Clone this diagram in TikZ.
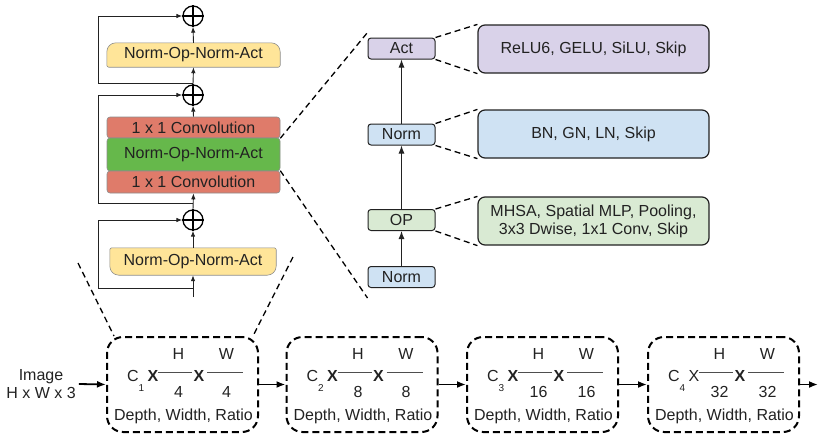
\documentclass[tikz,border=0pt]{standalone}
\usepackage{fontspec}
\setmainfont{Liberation Sans}
\usetikzlibrary{arrows.meta,calc}
\pgfdeclarelayer{background}
\pgfsetlayers{background,main}
\definecolor{ink}{HTML}{222222}
\definecolor{cyel}{HTML}{FFE599}
\definecolor{cred}{HTML}{DF7B6A}
\definecolor{cgreen}{HTML}{66B84B}
\definecolor{cpurple}{HTML}{D9D2E9}
\definecolor{cblue}{HTML}{CFE2F3}
\definecolor{clgreen}{HTML}{D9EAD3}
\definecolor{edge}{HTML}{8C8C8C}
\newcommand\YellowTop[1]{%
  \path[yelshape] ([yshift=2pt]#1.south west) -- ([yshift=-9pt]#1.north west)
    arc[start angle=180,end angle=90,radius=9pt] -- ([xshift=-9pt]#1.north east)
    arc[start angle=90,end angle=0,radius=9pt] -- ([yshift=2pt]#1.south east)
    arc[start angle=0,end angle=-90,radius=2pt] -- ([xshift=2pt]#1.south west)
    arc[start angle=270,end angle=180,radius=2pt] -- cycle;}
\newcommand\YellowBottom[1]{%
  \path[yelshape] ([yshift=-2pt]#1.north west) -- ([yshift=9pt]#1.south west)
    arc[start angle=180,end angle=270,radius=9pt] -- ([xshift=-9pt]#1.south east)
    arc[start angle=270,end angle=360,radius=9pt] -- ([yshift=-2pt]#1.north east)
    arc[start angle=0,end angle=90,radius=2pt] -- ([xshift=2pt]#1.north west)
    arc[start angle=90,end angle=180,radius=2pt] -- cycle;}
\begin{document}
\begin{tikzpicture}[x=1pt,y=1pt,
  txt/.style={font=\fontsize{16pt}{18pt}\selectfont, text=ink, inner sep=0pt},
  subtxt/.style={font=\fontsize{10pt}{11pt}\selectfont, text=ink, inner sep=0pt},
  flow/.style={draw=ink, line width=0.9pt, -{Latex[length=6pt,width=4.5pt]}},
  plusnode/.style={circle, draw=black, line width=1.3pt, minimum size=20pt, inner sep=0pt},
  plusline/.style={draw=black, line width=1.3pt},
  yelshape/.style={fill=cyel, draw=edge, line width=0.6pt},
  blockbox/.style={txt, draw=edge, line width=0.6pt, rounded corners=3pt, minimum width=173pt},
  smallbox/.style={txt, draw=ink, line width=1pt, rounded corners=3pt, minimum width=67pt, minimum height=21pt},
  bigbox/.style={txt, draw=ink, line width=1.2pt, rounded corners=7pt, minimum width=231pt, minimum height=48pt, align=center},
  colarrow/.style={draw=ink, line width=1pt, -{Latex[length=8pt,width=6pt]}},
  zoomline/.style={draw=black, line width=1.3pt, dash pattern=on 6pt off 4pt},
  stagebox/.style={draw=black, line width=2pt, dash pattern=on 7pt off 4pt, rounded corners=16pt, minimum width=151pt, minimum height=95pt},
  stagearrow/.style={draw=black, line width=1.8pt, -{Latex[length=9pt,width=7pt]}},
  fracline/.style={draw=ink!80, line width=0.8pt}
]
\useasboundingbox (0,0) rectangle (820,-437);

% ---------------- left block stack ----------------
\node[plusnode] (p1) at (193,-16) {};
\node[txt, minimum width=173pt, minimum height=24pt] (y1) at (193.5,-55) {Norm-Op-Norm-Act};
\node[plusnode] (p2) at (193,-95) {};
\node[blockbox, fill=cred, minimum height=21pt] (r1) at (193.5,-127.5) {1 x 1 Convolution};
\node[blockbox, fill=cgreen, minimum height=33pt] (g1) at (193.5,-154.5) {Norm-Op-Norm-Act};
\node[blockbox, fill=cred, minimum height=22pt] (r2) at (193.5,-182) {1 x 1 Convolution};
\node[plusnode] (p3) at (193,-220) {};
\node[txt, minimum width=166pt, minimum height=27pt] (y2) at (193,-261.5) {Norm-Op-Norm-Act};
\begin{pgfonlayer}{background}
  \YellowTop{y1}
  \YellowBottom{y2}
\end{pgfonlayer}
\foreach \p in {p1,p2,p3}{\draw[plusline] (\p.north) -- (\p.south) (\p.west) -- (\p.east);}

\coordinate (in0) at (193,-297);
\coordinate (s3) at (193,-288);
\coordinate (s2) at (193,-203);
\coordinate (s1) at (193,-83);

\draw[flow] (in0) -- (y2.south);
\draw[flow] (y2.north) -- (p3.south);
\draw[flow] (p3.north) -- (r2.south);
\draw[flow] (r1.north) -- (p2.south);
\draw[flow] (p2.north) -- (y1.south);
\draw[flow] (y1.north) -- (p1.south);
\draw[flow] (s3) -- ++(-95,0) |- (p3.west);
\draw[flow] (s2) -- ++(-95,0) |- (p2.west);
\draw[flow] (s1) -- ++(-95,0) |- (p1.west);

% ---------------- operator column ----------------
\node[smallbox, fill=cpurple] (act) at (401.5,-48.5) {Act};
\node[smallbox, fill=cblue] (nrm) at (401.5,-134.5) {Norm};
\node[smallbox, fill=clgreen] (op) at (401.5,-220) {OP};
\node[smallbox, fill=cblue] (nrm0) at (401.5,-277) {Norm};
\draw[colarrow] (nrm0.north) -- (op.south);
\draw[colarrow] (op.north) -- (nrm.south);
\draw[colarrow] (nrm.north) -- (act.south);

\node[bigbox, fill=cpurple] (actc) at (593.5,-49) {ReLU6, GELU, SiLU, Skip};
\node[bigbox, fill=cblue] (nrmc) at (593.5,-134) {BN, GN, LN, Skip};
\node[bigbox, fill=clgreen] (opc) at (593.5,-221) {MHSA, Spatial MLP, Pooling,\\3x3 Dwise, 1x1 Conv, Skip};
\draw[zoomline] (act.north east) -- (actc.north west);
\draw[zoomline] (act.south east) -- (actc.south west);
\draw[zoomline] (nrm.north east) -- (nrmc.north west);
\draw[zoomline] (nrm.south east) -- (nrmc.south west);
\draw[zoomline] (op.north east) -- (opc.north west);
\draw[zoomline] (op.south east) -- (opc.south west);

\draw[zoomline] (r1.south east) -- ([yshift=5pt]act.north west);
\draw[zoomline] (r2.north east) -- ([yshift=-10pt]nrm0.south west);

% ---------------- stages ----------------
\node[txt, align=center] (img) at (41,-384) {Image\\H x W x 3};
\node[stagebox] (st1) at (182.5,-384.5) {};
\node[stagebox] (st2) at (362,-384.5) {};
\node[stagebox] (st3) at (542.5,-384.5) {};
\node[stagebox] (st4) at (723.5,-384.5) {};
\coordinate (out) at (818,-384.5);

\coordinate (zl) at (78,-263);
\coordinate (zr) at (293,-257);
\draw[zoomline] (zl) -- ([xshift=8pt]st1.north west);
\draw[zoomline] (zr) -- ([xshift=-6pt]st1.north east);

\draw[stagearrow] ([xshift=3pt]img.east) -- (st1.west);
\draw[stagearrow] (st1.east) -- (st2.west);
\draw[stagearrow] (st2.east) -- (st3.west);
\draw[stagearrow] (st3.east) -- (st4.west);
\draw[stagearrow] (st4.east) -- (out);

\foreach \i/\cx/\d/\xa in {1/182.5/4/{\textbf{X}}, 2/362/8/{\textbf{X}}, 3/542.5/16/{\textbf{X}}, 4/723.5/32/{X}}{
  \node[txt] (c\i) at (\cx-49.5,-376) {C};
  \node[subtxt] (sb\i) at (\cx-41,-388) {\i};
  \node[txt] (xa\i) at (\cx-29.5,-375.5) {\xa};
  \node[txt] (h\i) at (\cx-4,-353.5) {H};
  \node[txt] (xb\i) at (\cx+16.5,-375.5) {\textbf{X}};
  \node[txt] (w\i) at (\cx+44,-353.5) {W};
  \node[txt] (da\i) at (\cx-4,-391.5) {\d};
  \node[txt] (db\i) at (\cx+44,-391.5) {\d};
  \node[txt] (dw\i) at (\cx+1,-416) {Depth, Width, Ratio};
  \draw[fracline] (\cx-24.5,-372) -- (\cx+9.5,-372);
  \draw[fracline] (\cx+24.5,-372) -- (\cx+60.5,-372);
}
\end{tikzpicture}
\end{document}
